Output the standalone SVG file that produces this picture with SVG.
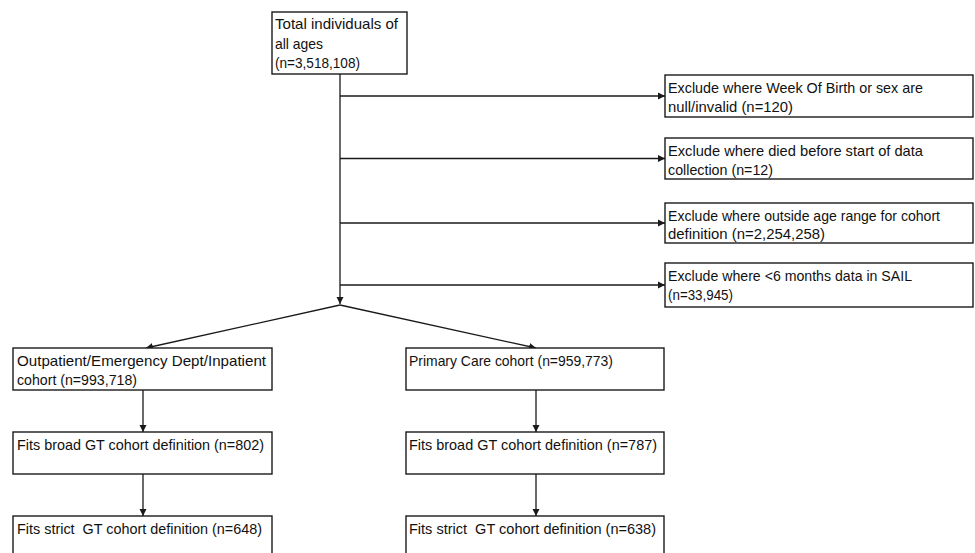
<svg xmlns="http://www.w3.org/2000/svg" width="975" height="553" viewBox="0 0 975 553">
<style>
.box{fill:#fff;stroke:#1a1a1a;stroke-width:1.4}
.t{font-family:"Liberation Sans",Arial,sans-serif;font-size:15px;fill:#111}
.c{stroke:#1a1a1a;stroke-width:1.3;fill:none}
</style>
<defs>
<marker id="ah" markerWidth="8" markerHeight="8" refX="7" refY="4" orient="auto" markerUnits="userSpaceOnUse">
<path d="M0,0.5 L7,4 L0,7.5 Z" fill="#1a1a1a"/>
</marker>
</defs>
<rect width="975" height="553" fill="#fff"/>
<g id="connectors">
<path class="c" d="M340,74 V304" marker-end="url(#ah)"/>
<path class="c" d="M340,96 H665" marker-end="url(#ah)"/>
<path class="c" d="M340,158.5 H665" marker-end="url(#ah)"/>
<path class="c" d="M340,223 H665" marker-end="url(#ah)"/>
<path class="c" d="M340,285 H665" marker-end="url(#ah)"/>
<path class="c" d="M340,305 L146,348" marker-end="url(#ah)"/>
<path class="c" d="M340,305 L536,348" marker-end="url(#ah)"/>
<path class="c" d="M143,390 V432" marker-end="url(#ah)"/>
<path class="c" d="M143,474 V516" marker-end="url(#ah)"/>
<path class="c" d="M536,390 V432" marker-end="url(#ah)"/>
<path class="c" d="M536,474 V516" marker-end="url(#ah)"/>
</g>
<g id="total">
<rect class="box" x="272" y="12" width="135" height="62"/>
<text class="t" x="275" y="29" textLength="123" lengthAdjust="spacingAndGlyphs">Total individuals of</text>
<text class="t" x="275" y="48.5" textLength="48" lengthAdjust="spacingAndGlyphs">all ages</text>
<text class="t" x="275" y="68" textLength="85" lengthAdjust="spacingAndGlyphs">(n=3,518,108)</text>
</g>
<g id="ex1">
<rect class="box" x="665" y="75" width="308" height="42"/>
<text class="t" x="668" y="93" textLength="255" lengthAdjust="spacingAndGlyphs">Exclude where Week Of Birth or sex are</text>
<text class="t" x="668" y="111.5" textLength="125" lengthAdjust="spacingAndGlyphs">null/invalid (n=120)</text>
</g>
<g id="ex2">
<rect class="box" x="665" y="138" width="308" height="41"/>
<text class="t" x="668" y="156" textLength="255" lengthAdjust="spacingAndGlyphs">Exclude where died before start of data</text>
<text class="t" x="668" y="174.5" textLength="105" lengthAdjust="spacingAndGlyphs">collection (n=12)</text>
</g>
<g id="ex3">
<rect class="box" x="665" y="203" width="308" height="40"/>
<text class="t" x="668" y="220.5" textLength="272" lengthAdjust="spacingAndGlyphs">Exclude where outside age range for cohort</text>
<text class="t" x="668" y="239" textLength="157" lengthAdjust="spacingAndGlyphs">definition (n=2,254,258)</text>
</g>
<g id="ex4">
<rect class="box" x="665" y="263" width="308" height="44"/>
<text class="t" x="668" y="281" textLength="244" lengthAdjust="spacingAndGlyphs">Exclude where &lt;6 months data in SAIL</text>
<text class="t" x="668" y="300" textLength="65" lengthAdjust="spacingAndGlyphs">(n=33,945)</text>
</g>
<g id="opd">
<rect class="box" x="13" y="348" width="259" height="42"/>
<text class="t" x="17" y="366" textLength="249" lengthAdjust="spacingAndGlyphs">Outpatient/Emergency Dept/Inpatient</text>
<text class="t" x="17" y="385" textLength="120" lengthAdjust="spacingAndGlyphs">cohort (n=993,718)</text>
</g>
<g id="pc">
<rect class="box" x="406" y="348" width="258" height="42"/>
<text class="t" x="409" y="366" textLength="204" lengthAdjust="spacingAndGlyphs">Primary Care cohort (n=959,773)</text>
</g>
<g id="opd_broad">
<rect class="box" x="13" y="432" width="259" height="42"/>
<text class="t" x="17" y="450" textLength="247" lengthAdjust="spacingAndGlyphs">Fits broad GT cohort definition (n=802)</text>
</g>
<g id="pc_broad">
<rect class="box" x="406" y="432" width="258" height="42"/>
<text class="t" x="409" y="450" textLength="248" lengthAdjust="spacingAndGlyphs">Fits broad GT cohort definition (n=787)</text>
</g>
<g id="opd_strict">
<rect class="box" x="13" y="516" width="259" height="45"/>
<text class="t" x="17" y="534" textLength="245" lengthAdjust="spacingAndGlyphs" xml:space="preserve">Fits strict  GT cohort definition (n=648)</text>
</g>
<g id="pc_strict">
<rect class="box" x="406" y="516" width="258" height="45"/>
<text class="t" x="409" y="534" textLength="247" lengthAdjust="spacingAndGlyphs" xml:space="preserve">Fits strict  GT cohort definition (n=638)</text>
</g>
</svg>
